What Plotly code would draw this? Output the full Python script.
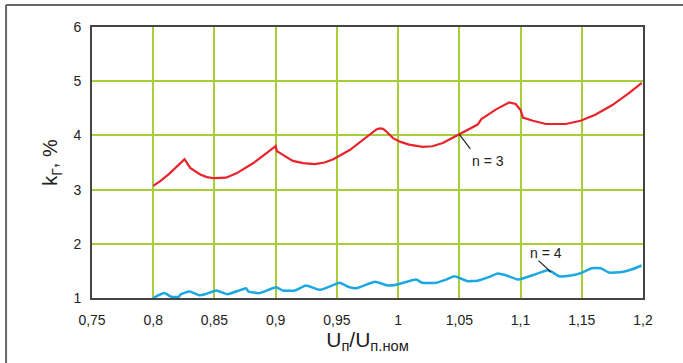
import plotly.graph_objects as go

# n = 3 curve
x3 = [0.800, 0.806, 0.813, 0.8256, 0.8302, 0.8384, 0.8438, 0.8498, 0.8595, 0.868, 0.8818,
      0.892, 0.900, 0.901, 0.909, 0.914, 0.9225, 0.932, 0.940,
      0.947, 0.9605, 0.9768, 0.9823, 0.985, 0.9877, 0.990, 0.9958, 1.002, 1.009, 1.020,
      1.028, 1.0365, 1.050, 1.058,
      1.065, 1.068, 1.080, 1.0908, 1.096, 1.100, 1.102, 1.110, 1.1207, 1.137, 1.149,
      1.161, 1.175, 1.1885, 1.199]
y3 = [3.07, 3.16, 3.29, 3.56, 3.40, 3.28, 3.23, 3.21, 3.22, 3.30, 3.49,
      3.67, 3.80, 3.71, 3.60, 3.53, 3.49, 3.47, 3.50,
      3.56, 3.73, 4.01, 4.11, 4.13, 4.12, 4.08, 3.95, 3.88, 3.83, 3.79,
      3.80, 3.86, 4.02, 4.13,
      4.20, 4.30, 4.48, 4.61, 4.58, 4.47, 4.33, 4.27, 4.21, 4.21, 4.27,
      4.38, 4.56, 4.78, 4.97]

# n = 4 curve
x4 = [0.800, 0.809, 0.815, 0.8207, 0.8226, 0.8297, 0.8378, 0.8424, 0.8514, 0.8606,
      0.8704, 0.8758, 0.8777, 0.8867, 0.9003, 0.9057, 0.9157, 0.9247, 0.936, 0.9428,
      0.9524, 0.960, 0.966, 0.981, 0.9917, 0.9985, 1.0148, 1.0197, 1.031, 1.0392,
      1.046, 1.050, 1.0568, 1.065, 1.0745, 1.0813, 1.088, 1.0984, 1.1098, 1.122,
      1.1256, 1.1315, 1.1397, 1.1492, 1.1582, 1.1655, 1.1722, 1.183, 1.1912, 1.1988]
y4 = [1.00, 1.09, 1.02, 1.02, 1.07, 1.12, 1.05, 1.07, 1.14, 1.07,
      1.14, 1.18, 1.12, 1.09, 1.20, 1.14, 1.14, 1.23, 1.15, 1.20,
      1.28, 1.20, 1.18, 1.30, 1.23, 1.245, 1.34, 1.28, 1.28, 1.34,
      1.40, 1.37, 1.31, 1.32, 1.39, 1.45, 1.42, 1.34, 1.42, 1.51,
      1.48, 1.40, 1.41, 1.46, 1.55, 1.55, 1.47, 1.48, 1.53, 1.60]

x_ticks = [0.75, 0.8, 0.85, 0.9, 0.95, 1.0, 1.05, 1.1, 1.15, 1.2]
x_ticktext = ["0,75", "0,8", "0,85", "0,9", "0,95", "1", "1,05", "1,1", "1,15", "1,2"]
y_ticks = [1, 2, 3, 4, 5, 6]
y_ticktext = ["1", "2", "3", "4", "5", "6"]

labels = ["n = 3", "n = 4"]

GRID = "#a6cf3a"
AXIS = "#444444"
FONT = "Liberation Sans"

fig = go.Figure()
fig.add_trace(go.Scatter(x=x3, y=y3, mode="lines", line=dict(color="#e8232b", width=2.2),
                         showlegend=False, hoverinfo="skip"))
fig.add_trace(go.Scatter(x=x4, y=y4, mode="lines", line=dict(color="#1ba8e2", width=2.5, shape="spline", smoothing=0.4),
                         showlegend=False, hoverinfo="skip"))

fig.update_xaxes(range=[0.75, 1.2], tickvals=x_ticks, ticktext=x_ticktext,
                 showgrid=True, gridcolor=GRID, gridwidth=1.6,
                 showline=True, linecolor=AXIS, linewidth=2, mirror=True,
                 zeroline=False, ticks="", ticklabelstandoff=8,
                 tickfont=dict(family=FONT, size=14, color="#222"),
                 title=dict(text="U<sub>п</sub>/U<sub>п.ном</sub>", font=dict(family=FONT, size=21, color="#222"), standoff=4))
fig.update_yaxes(range=[1, 6], tickvals=y_ticks, ticktext=y_ticktext,
                 showgrid=True, gridcolor=GRID, gridwidth=1.6,
                 showline=True, linecolor=AXIS, linewidth=2, mirror=True,
                 zeroline=False, ticks="", ticklabelstandoff=6,
                 tickfont=dict(family=FONT, size=14, color="#222"),
                 title=dict(text="k<sub>Г</sub>, %", font=dict(family=FONT, size=20, color="#222"), standoff=10))

# leader lines for labels
fig.add_shape(type="line", xref="x", yref="y", x0=1.050, y0=4.02, x1=1.059, y1=3.75,
              line=dict(color="#222", width=1.2))
fig.add_shape(type="line", xref="x", yref="y", x0=1.1147, y0=1.69, x1=1.1248, y1=1.48,
              line=dict(color="#222", width=1.2))
fig.add_annotation(x=1.0737, y=3.53, text=labels[0], showarrow=False,
                   font=dict(family=FONT, size=14, color="#222"))
fig.add_annotation(x=1.1207, y=1.83, text=labels[1], showarrow=False,
                   font=dict(family=FONT, size=14, color="#222"))

# outer frame (left and top edges visible)
fig.add_shape(type="line", xref="paper", yref="paper", x0=-0.156, y0=1.081, x1=1.2, y1=1.081,
              line=dict(color="#666", width=2))
fig.add_shape(type="line", xref="paper", yref="paper", x0=-0.156, y0=1.081, x1=-0.156, y1=-0.3,
              line=dict(color="#666", width=2))

fig.update_layout(width=683, height=363, margin=dict(l=92, r=40, t=27, b=65),
                  paper_bgcolor="white", plot_bgcolor="white",
                  font=dict(family=FONT))

fig.write_html("out.html")
